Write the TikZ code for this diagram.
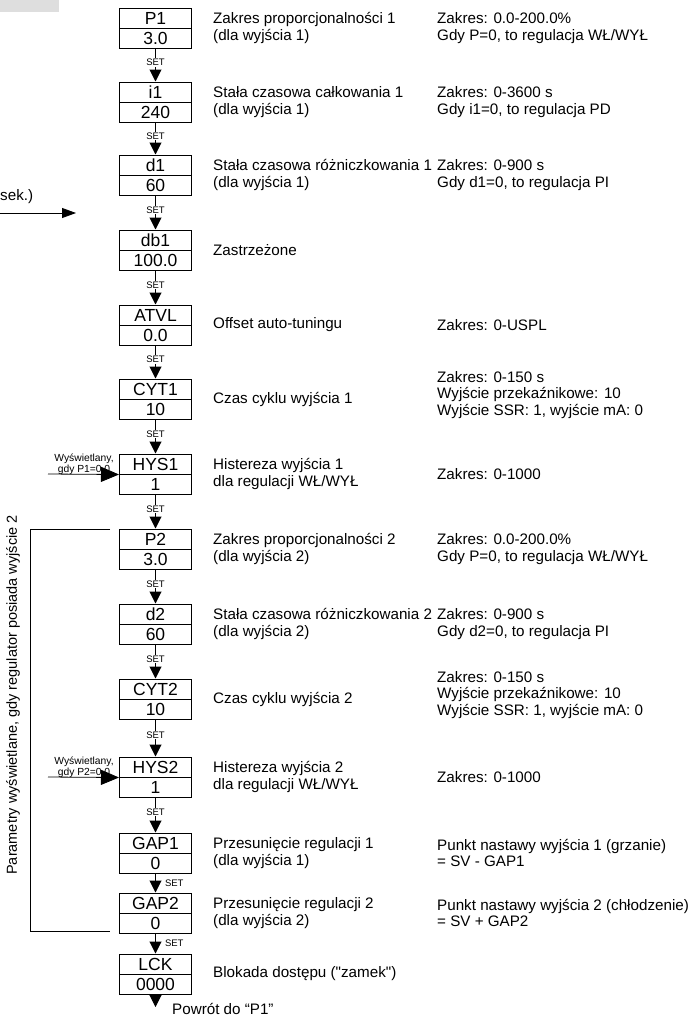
\documentclass[tikz,border=0pt]{standalone}
\usepackage{fontspec}
\setmainfont{Liberation Sans}[Ligatures=TeXOff]
\usetikzlibrary{arrows.meta}
\definecolor{lightgr}{RGB}{222,222,222}
\newcommand{\dispbox}[4]{%
  \node[cell] (#1a) at (155.5,#2+10) {#3};
  \node[cell] (#1b) at (155.5,#2+30) {#4};
}
\begin{document}
\begin{tikzpicture}[x=1pt,y=-1pt,
  cell/.style={draw,line width=1pt,minimum width=72pt,minimum height=20pt,inner sep=0pt,font=\fontsize{17.5}{17.5}\selectfont},
  conn/.style={line width=1pt,-{Triangle[length=12pt,width=12pt]}},
  inarrow/.style={line width=0.8pt,-{Triangle[length=18pt,width=15pt]}},
  setlbl/.style={fill=white,inner sep=0.8pt,pos=0.42,font=\fontsize{9.5}{10}\selectfont},
  setside/.style={anchor=west,inner sep=0pt,pos=0.5,xshift=9pt,font=\fontsize{9.5}{10}\selectfont},
  desc/.style={anchor=west,align=left,inner sep=0pt,font=\fontsize{15.2}{16.8}\selectfont},
  smalllbl/.style={anchor=south,align=center,inner sep=0pt,font=\fontsize{10.3}{11}\selectfont},
  bracket/.style={line width=0.8pt}]
\useasboundingbox (0,0) rectangle (692,1018);
\fill[lightgr] (0,0) rectangle (59,12);
% sek.) arrow
\node[desc] (sek) at (0,197) {sek.)};
\coordinate (sekS) at (0,213);
\coordinate (sekE) at (76,213);
\draw[line width=0.8pt,-{Triangle[length=14pt,width=10pt]}] (sekS) -- (sekE);
% boxes
\dispbox{p1}{8}{P1}{3.0}
\dispbox{i1}{82}{i1}{240}
\dispbox{d1}{155}{d1}{60}
\dispbox{db1}{230}{db1}{100.0}
\dispbox{atvl}{305}{ATVL}{0.0}
\dispbox{cyt1}{379}{CYT1}{10}
\dispbox{hys1}{454}{HYS1}{1}
\dispbox{p2}{529}{P2}{3.0}
\dispbox{d2}{604}{d2}{60}
\dispbox{cyt2}{679}{CYT2}{10}
\dispbox{hys2}{757}{HYS2}{1}
\dispbox{gap1}{833}{GAP1}{0}
\dispbox{gapb}{893}{GAP2}{0}
\dispbox{lck}{954}{LCK}{0000}
% SET connectors
\draw[conn] (p1b.south) -- node[setlbl]{SET} (i1a.north);
\draw[conn] (i1b.south) -- node[setlbl]{SET} (d1a.north);
\draw[conn] (d1b.south) -- node[setlbl]{SET} (db1a.north);
\draw[conn] (db1b.south) -- node[setlbl]{SET} (atvla.north);
\draw[conn] (atvlb.south) -- node[setlbl]{SET} (cyt1a.north);
\draw[conn] (cyt1b.south) -- node[setlbl]{SET} (hys1a.north);
\draw[conn] (hys1b.south) -- node[setlbl]{SET} (p2a.north);
\draw[conn] (p2b.south) -- node[setlbl]{SET} (d2a.north);
\draw[conn] (d2b.south) -- node[setlbl]{SET} (cyt2a.north);
\draw[conn] (cyt2b.south) -- node[setlbl]{SET} (hys2a.north);
\draw[conn] (hys2b.south) -- node[setlbl]{SET} (gap1a.north);
\draw[conn] (gap1b.south) -- node[setside]{SET} (gapba.north);
\draw[conn] (gapbb.south) -- node[setside]{SET} (lcka.north);
\coordinate (ret) at (155.5,1007);
\draw[conn] (lckb.south) -- (ret);
\node[desc] (rettxt) at (172,1008.5) {Powrót do “P1”};
% side inputs
\coordinate (in1) at (48,474);
\draw[inarrow] (in1) -- (hys1a.south west);
\node[smalllbl] (lbl1) at (84,475) {Wyświetlany,\\gdy P1=0.0};
\coordinate (in2) at (48,777);
\draw[inarrow] (in2) -- (hys2a.south west);
\node[smalllbl] (lbl2) at (84,778) {Wyświetlany,\\gdy P2=0.0};
% bracket
\coordinate (brA) at (110,529);
\coordinate (brB) at (30,529);
\coordinate (brC) at (30,931);
\coordinate (brD) at (110,931);
\draw[bracket] (brA) -- (brB) -- (brC) -- (brD);
\node[rotate=90,inner sep=0pt,font=\fontsize{14.5}{16}\selectfont] (brtxt) at (13,695) {Parametry wyświetlane, gdy regulator posiada wyjście 2};
% middle descriptions
\node[desc] (m1) at (213,28) {Zakres proporcjonalności 1\\(dla wyjścia 1)};
\node[desc] (m2) at (213,102) {Stała czasowa całkowania 1\\(dla wyjścia 1)};
\node[desc] (m3) at (213,175) {Stała czasowa różniczkowania 1\\(dla wyjścia 1)};
\node[desc] (m4) at (213,250) {Zastrzeżone};
\node[desc] (m5) at (213,325) {Offset auto-tuningu};
\node[desc] (m6) at (213,399) {Czas cyklu wyjścia 1};
\node[desc] (m7) at (213,474) {Histereza wyjścia 1\\dla regulacji WŁ/WYŁ};
\node[desc] (m8) at (213,549) {Zakres proporcjonalności 2\\(dla wyjścia 2)};
\node[desc] (m9) at (213,624) {Stała czasowa różniczkowania 2\\(dla wyjścia 2)};
\node[desc] (m10) at (213,699) {Czas cyklu wyjścia 2};
\node[desc] (m11) at (213,777) {Histereza wyjścia 2\\dla regulacji WŁ/WYŁ};
\node[desc] (m12) at (213,853) {Przesunięcie regulacji 1\\(dla wyjścia 1)};
\node[desc] (m13) at (213,913) {Przesunięcie regulacji 2\\(dla wyjścia 2)};
\node[desc] (m14) at (213,974) {Blokada dostępu ("zamek")};
% right descriptions
\node[desc] (r1) at (437,28) {Zakres: 0.0-200.0\%\\Gdy P=0, to regulacja WŁ/WYŁ};
\node[desc] (r2) at (437,102) {Zakres: 0-3600 s\\Gdy i1=0, to regulacja PD};
\node[desc] (r3) at (437,175) {Zakres: 0-900 s\\Gdy d1=0, to regulacja PI};
\node[desc] (r5) at (437,325) {Zakres: 0-USPL};
\node[desc] (r6) at (437,395) {Zakres: 0-150 s\\Wyjście przekaźnikowe: 10\\Wyjście SSR: 1, wyjście mA: 0};
\node[desc] (r7) at (437,474) {Zakres: 0-1000};
\node[desc] (r8) at (437,549) {Zakres: 0.0-200.0\%\\Gdy P=0, to regulacja WŁ/WYŁ};
\node[desc] (r9) at (437,624) {Zakres: 0-900 s\\Gdy d2=0, to regulacja PI};
\node[desc] (r10) at (437,695) {Zakres: 0-150 s\\Wyjście przekaźnikowe: 10\\Wyjście SSR: 1, wyjście mA: 0};
\node[desc] (r11) at (437,777) {Zakres: 0-1000};
\node[desc] (r12) at (437,853) {Punkt nastawy wyjścia 1 (grzanie)\\= SV - GAP1};
\node[desc] (r13) at (437,913) {Punkt nastawy wyjścia 2 (chłodzenie)\\= SV + GAP2};
\end{tikzpicture}
\end{document}
